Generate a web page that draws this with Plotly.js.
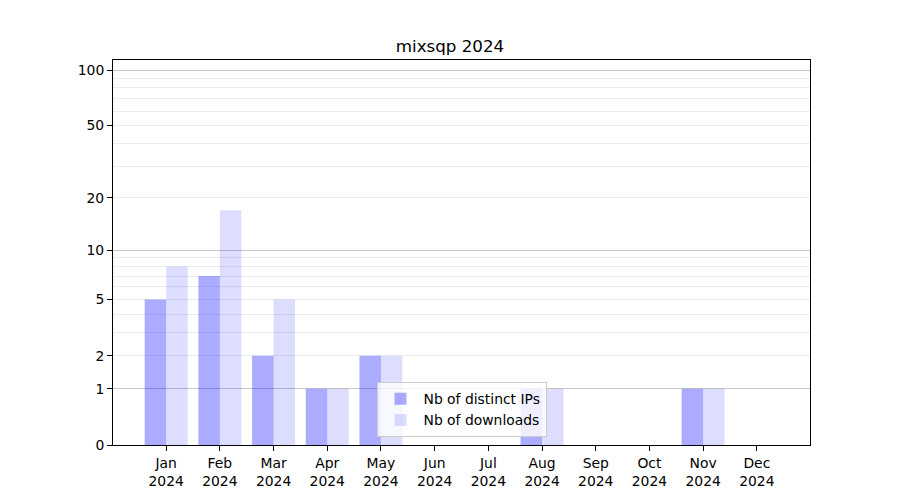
<!DOCTYPE html>
<html><head><meta charset="utf-8">
<script src="https://cdn.plot.ly/plotly-3.0.1.min.js"></script>
<style>html,body{margin:0;padding:0;background:#fff}</style>
</head><body><div id="chart" style="width:900px;height:500px"></div>
<script>
const months = ["Jan","Feb","Mar","Apr","May","Jun","Jul","Aug","Sep","Oct","Nov","Dec"];
const year = "2024";
const distinctIPs = [5,7,2,1,2,0,0,1,0,0,1,0];
const downloads = [8,17,5,1,2,0,0,1,0,0,1,0];
const yTickValues = [0,1,2,5,10,20,50,100];
const majorGridValues = [1,10,100];
const minorGridValues = [2,3,4,5,6,7,8,9,20,30,40,50,60,70,80,90];

const f = v => Math.log10(1 + v);
const cats = months.map(m => m + "<br>" + year);
const yTop = 2.058;
const font = {family: "DejaVu Sans", size: 13.9, color: "#000"};

const traces = [
  {type: "bar", name: "Nb of distinct IPs", x: cats, y: distinctIPs.map(f),
   marker: {color: "rgba(0,0,255,0.33)", line: {width: 0}}, hoverinfo: "skip"},
  {type: "bar", name: "Nb of downloads", x: cats, y: downloads.map(f),
   marker: {color: "rgba(0,0,255,0.135)", line: {width: 0}}, hoverinfo: "skip"},
  {type: "scatter", x: [cats[0]], y: [0], yaxis: "y2", mode: "none", showlegend: false, hoverinfo: "skip"}
];

const layout = {
  width: 900, height: 500,
  margin: {l: 113, r: 90, t: 60, b: 55},
  paper_bgcolor: "#fff", plot_bgcolor: "#fff",
  font: font,
  title: {text: "mixsqp 2024", font: {family: "DejaVu Sans", size: 16.7, color: "#000"},
          x: 0.5, xanchor: "center", y: 1 - 46/500, yanchor: "middle"},
  barmode: "group", bargap: 0.2, bargroupgap: 0,
  showlegend: true,
  legend: {x: 0.5, xanchor: "center", y: 0.02, yanchor: "bottom",
           bgcolor: "rgba(255,255,255,0.8)", bordercolor: "#cccccc", borderwidth: 1,
           font: font, traceorder: "normal", tracegroupgap: 0, itemwidth: 36},
  xaxis: {type: "category", range: [-0.99, 11.99], showgrid: false, zeroline: false,
          showline: true, linecolor: "#000", linewidth: 1, mirror: true,
          ticks: "outside", ticklen: 5, tickcolor: "#000", tickfont: font},
  yaxis: {range: [0, yTop], showgrid: false, zeroline: false,
          showline: true, linecolor: "#000", linewidth: 1, mirror: true,
          tickmode: "array", tickvals: yTickValues.map(f), ticktext: yTickValues.map(String),
          ticks: "outside", ticklen: 5, tickcolor: "#000", tickfont: font,
          minor: {tickmode: "array", tickvals: minorGridValues.map(f), ticks: "",
                  showgrid: true, gridcolor: "#ececec", gridwidth: 1}},
  yaxis2: {overlaying: "y", anchor: "x", range: [0, yTop], side: "left",
           showgrid: true, gridcolor: "#c8c8c8", gridwidth: 1, zeroline: false,
           showline: false, showticklabels: false, ticks: "",
           tickmode: "array", tickvals: majorGridValues.map(f)}
};

Plotly.newPlot("chart", traces, layout, {staticPlot: true, displayModeBar: false});
</script></body></html>
